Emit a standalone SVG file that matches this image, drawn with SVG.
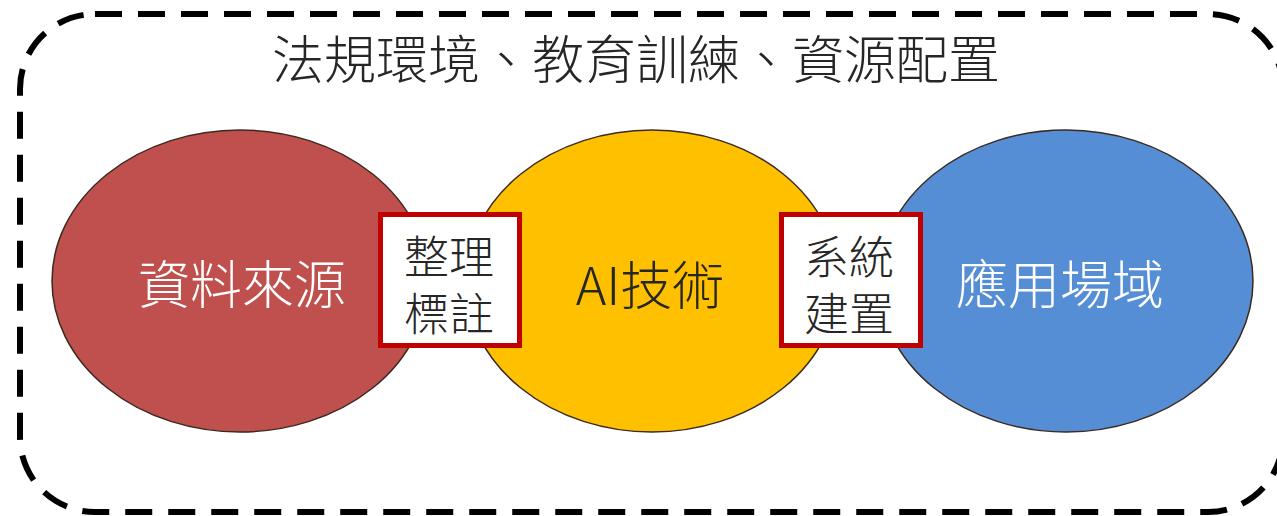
<svg xmlns="http://www.w3.org/2000/svg" width="1277" height="516" viewBox="0 0 1277 516">
<style>
.t{font-family:"Noto Sans CJK TC","Noto Sans CJK SC",sans-serif;text-anchor:middle;dominant-baseline:central;font-weight:300}
.ell{stroke:#3a2a20;stroke-width:1.5}
.box{fill:#ffffff;stroke:#C00000;stroke-width:5}
.dark{fill:#262626}
.white{fill:#ffffff}
</style>
<rect width="1277" height="516" fill="#ffffff"/>
<g id="frame">
<rect x="20" y="14" width="1263" height="498" rx="75" ry="75" fill="none" stroke="#000" stroke-width="6" stroke-dasharray="27 16"/>
<text class="t dark" x="636" y="56" font-size="52">法規環境、教育訓練、資源配置</text>
</g>
<g id="connectors"></g>
<g id="data-source">
<ellipse class="ell" cx="240" cy="281" rx="188" ry="151" fill="#C0504D"/>
<text class="t white" x="242" y="281" font-size="52">資料來源</text>
</g>
<g id="ai-tech">
<ellipse class="ell" cx="652" cy="281" rx="186" ry="151" fill="#FFC000"/>
<text class="t dark" x="650" y="282" font-size="52">AI技術</text>
</g>
<g id="application">
<ellipse class="ell" cx="1066" cy="281" rx="187" ry="151" fill="#558ED5"/>
<text class="t white" x="1060" y="281" font-size="52">應用場域</text>
</g>
<g id="annotate">
<rect class="box" x="380.5" y="214.5" width="139" height="131"/>
<text class="t dark" font-size="45"><tspan x="449" y="254">整理</tspan><tspan x="449" y="311">標註</tspan></text>
</g>
<g id="build">
<rect class="box" x="781.5" y="214.5" width="139" height="131"/>
<text class="t dark" font-size="45"><tspan x="849" y="254">系統</tspan><tspan x="849" y="311">建置</tspan></text>
</g>
</svg>
